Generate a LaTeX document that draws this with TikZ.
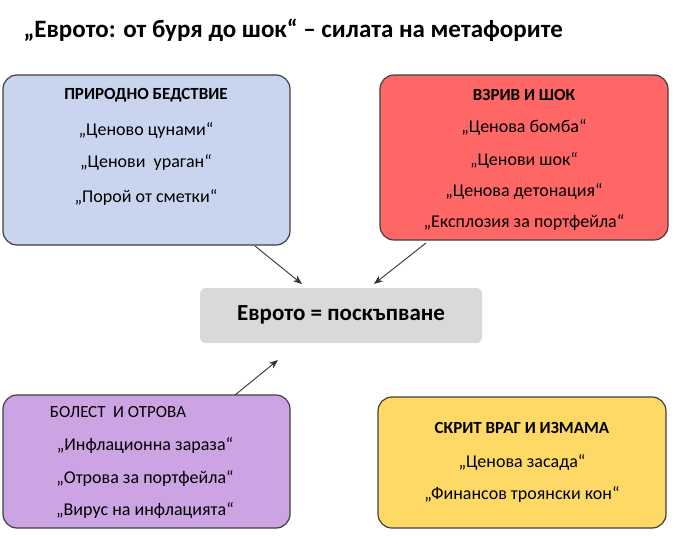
\documentclass[tikz,border=0pt]{standalone}
\usepackage{fontspec}
\usetikzlibrary{arrows.meta}
\setmainfont{Carlito}
\begin{document}
\begin{tikzpicture}[x=1pt,y=-1pt,
  box/.style={draw=black!75,line width=1.2pt,rounded corners=14pt},
  hd/.style={font=\bfseries\fontsize{17}{20}\selectfont},
  tx/.style={font=\fontsize{18}{21}\selectfont},
  arr/.style={-{Stealth[length=9pt,width=7pt]},line width=0.9pt,black!80}]
\useasboundingbox (0,0) rectangle (677,549);
\fill[white] (0,0) rectangle (677,549);
\node[anchor=west,font=\bfseries\fontsize{25}{28}\selectfont] (title) at (20,30) {„Еврото: от буря до шок“ – силата на метафорите};
\definecolor{cb}{HTML}{C9D5EE}\definecolor{cr}{HTML}{FF6666}
\definecolor{cp}{HTML}{CCA3E3}\definecolor{cy}{HTML}{FFD966}
\draw[box,fill=cb] (3,75) rectangle (290,245);
\draw[box,fill=cr] (380,75) rectangle (668,240);
\fill[black!15,rounded corners=6pt] (200,288) rectangle (482,343);
\node[font=\bfseries\fontsize{23}{27}\selectfont] (c) at (341,315) {Еврото = поскъпване};
\draw[box,fill=cp] (3,395) rectangle (290,528);
\draw[box,fill=cy] (378,397) rectangle (666,528);
\node[hd] (h1) at (146,95) {ПРИРОДНО БЕДСТВИЕ};
\node[tx] (a1) at (146,130) {„Ценово цунами“};
\node[tx] (a2) at (146,162) {„Ценови\ \ ураган“};
\node[tx] (a3) at (146,197) {„Порой от сметки“};
\node[hd] (h2) at (524,95) {ВЗРИВ И ШОК};
\node[tx] (b1) at (524,127) {„Ценова бомба“};
\node[tx] (b2) at (524,160) {„Ценови шок“};
\node[tx] (b3) at (524,191) {„Ценова детонация“};
\node[tx] (b4) at (524,222) {„Експлозия за портфейла“};
\node[font=\fontsize{17}{20}\selectfont] (h3) at (118,412) {БОЛЕСТ\ \ И ОТРОВА};
\node[tx] (d1) at (145,445) {„Инфлационна зараза“};
\node[tx] (d2) at (145,478) {„Отрова за портфейла“};
\node[tx] (d3) at (145,510) {„Вирус на инфлацията“};
\node[hd] (h4) at (522,428) {СКРИТ ВРАГ И ИЗМАМА};
\node[tx] (e1) at (522,462) {„Ценова засада“};
\node[tx] (e2) at (522,494) {„Финансов троянски кон“};
\coordinate (p1) at (255,246); \coordinate (q1) at (302,284);
\coordinate (p2) at (426,243); \coordinate (q2) at (374,284);
\coordinate (p3) at (235,395); \coordinate (q3) at (278,360);
\draw[arr] (p1) -- (q1);
\draw[arr] (p2) -- (q2);
\draw[arr] (p3) -- (q3);
\end{tikzpicture}
\end{document}
